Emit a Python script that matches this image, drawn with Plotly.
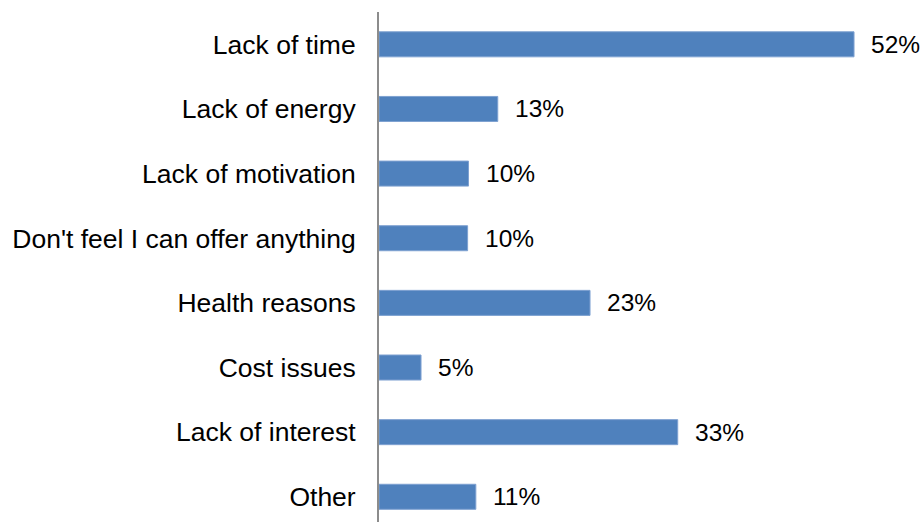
import plotly.graph_objects as go

categories = ["Lack of time", "Lack of energy", "Lack of motivation",
              "Don't feel I can offer anything", "Health reasons",
              "Cost issues", "Lack of interest", "Other"]
# bar lengths (labels show the rounded percentages)
values = [52.0, 13.0, 9.8, 9.7, 23.1, 4.6, 32.7, 10.6]
value_labels = ["52%", "13%", "10%", "10%", "23%", "5%", "33%", "11%"]

# plot bottom-to-top order so first category is at the top
cats = categories[::-1]
vals = values[::-1]
labs = value_labels[::-1]

fig = go.Figure()
fig.add_trace(go.Bar(
    y=cats, x=vals, orientation="h",
    marker=dict(color="#4F81BD", line=dict(color="#7EA1D1", width=1)),
    hoverinfo="skip",
))

for c, v, t in zip(cats, vals, labs):
    fig.add_annotation(x=v, y=c, text=t, showarrow=False, xanchor="left",
                       xshift=15, font=dict(family="Liberation Sans, Arial", size=24.5, color="#000000"))

fig.update_layout(
    width=924, height=522,
    margin=dict(l=379, r=0, t=12, b=0),
    paper_bgcolor="white", plot_bgcolor="white",
    bargap=0.613,
    showlegend=False,
    font=dict(family="Liberation Sans, Arial", size=26.5, color="#000000"),
    xaxis=dict(range=[0, 59.66], visible=False, showgrid=False, zeroline=False),
    yaxis=dict(type="category", categoryorder="array", categoryarray=cats,
               range=[-0.39, 7.5], showline=True, linecolor="#8C8C8C", linewidth=2,
               showgrid=False, zeroline=False, ticks="", ticklabelstandoff=16,
               tickfont=dict(size=26.5, color="#000000")),
)

fig.write_html("out.html", config={"displayModeBar": False},
               post_script="document.body.style.margin='0';document.body.style.overflow='hidden';")
